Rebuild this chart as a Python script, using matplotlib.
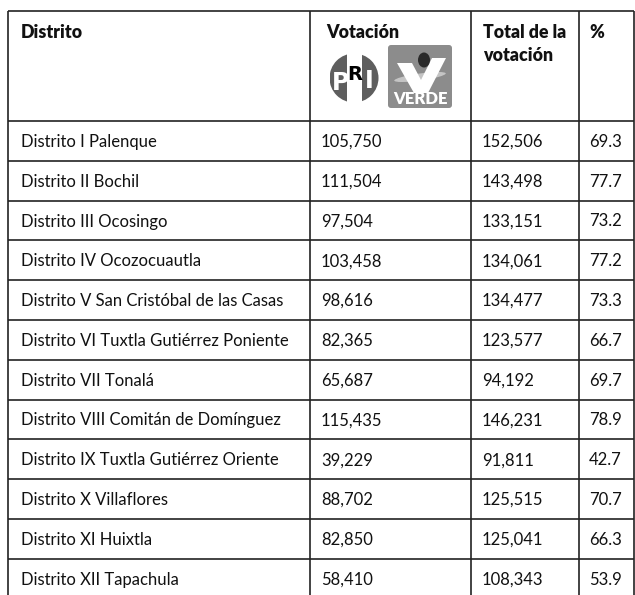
import matplotlib.pyplot as plt
from matplotlib.patches import Circle, Rectangle, FancyBboxPatch, Polygon, Ellipse

plt.rcParams['font.family'] = ['Lato', 'DejaVu Sans']

# datos de la tabla
distritos = ['Distrito I Palenque', 'Distrito II Bochil', 'Distrito III Ocosingo',
             'Distrito IV Ocozocuautla', 'Distrito V San Cristóbal de las Casas',
             'Distrito VI Tuxtla Gutiérrez Poniente', 'Distrito VII Tonalá',
             'Distrito VIII Comitán de Domínguez', 'Distrito IX Tuxtla Gutiérrez Oriente',
             'Distrito X Villaflores', 'Distrito XI Huixtla', 'Distrito XII Tapachula']
votacion = [105750, 111504, 97504, 103458, 98616, 82365, 65687, 115435, 39229,
            88702, 82850, 58410]
total = [152506, 143498, 133151, 134061, 134477, 123577, 94192, 146231, 91811,
         125515, 125041, 108343]
porcentaje = [69.3, 77.7, 73.2, 77.2, 73.3, 66.7, 69.7, 78.9, 42.7, 70.7, 66.3, 53.9]

# geometria (pixeles)
W, H = 635, 595
col_x = [8, 310, 471, 579, 634]
top, header_bottom, row_h = 11, 121, 39.8
line_color = '#222222'
fs = 12

fig = plt.figure(figsize=(W / 100, H / 100), dpi=100)
ax = fig.add_axes([0, 0, 1, 1])
ax.set_xlim(0, W)
ax.set_ylim(H, 0)
ax.axis('off')

# lineas
n = len(distritos)
y_lines = [top, header_bottom] + [header_bottom + (i + 1) * row_h for i in range(n)]
for y in y_lines:
    ax.plot([col_x[0], col_x[-1]], [y, y], color=line_color, lw=1.2, solid_capstyle='butt')
for x in col_x:
    ax.plot([x, x], [top, y_lines[-1]], color=line_color, lw=1.2, solid_capstyle='butt')

# encabezado
hdr = dict(fontsize=12.8, fontweight='heavy', va='baseline', ha='left', color='#111111')
ax.text(col_x[0] + 13, 38, 'Distrito', **hdr)
ax.text(col_x[1] + 16, 38, 'Votación', **hdr)
ax.text(col_x[2] + 12, 38, 'Total de la', **hdr)
ax.text(col_x[2] + 12, 61, 'votación', **hdr)
ax.text(col_x[3] + 10, 38, '%', **hdr)

# logo PRI
cx, cy, r = 354, 78, 24.5
circ = Circle((cx, cy), r, facecolor='white', edgecolor='none')
ax.add_patch(circ)
for x0, x1 in [(cx - r, cx - 0.28 * r), (cx + 0.34 * r, cx + r)]:
    rect = Rectangle((x0, cy - r), x1 - x0, 2 * r, facecolor='#5e5e5e', edgecolor='none')
    ax.add_patch(rect)
    rect.set_clip_path(circ)
pri = dict(fontweight='bold', ha='center', va='center', family='DejaVu Sans')
ax.text(cx - 0.55 * r, cy + 5, 'P', fontsize=17, color='white', **pri)
ax.text(cx + 0.04 * r, cy - 4, 'R', fontsize=14, color='black', **pri)
ax.text(cx + 0.62 * r, cy + 3, 'I', fontsize=17, color='white', **pri)

# logo VERDE
bx, by, bw, bh = 388, 45, 64, 63
ax.add_patch(FancyBboxPatch((bx + 3, by + 3), bw - 6, bh - 6,
                            boxstyle='round,pad=3', facecolor='#8c8c8c', edgecolor='none'))
ax.add_patch(Ellipse((bx + 32, by + 32), 52, 7, angle=-8, facecolor='#c4c4c4',
                     edgecolor='none'))
ax.add_patch(Polygon([(bx + 9, by + 18), (bx + 24, by + 18), (bx + 33, by + 35),
                      (bx + 44, by + 13), (bx + 58, by + 13), (bx + 40, by + 48),
                      (bx + 26, by + 48)], closed=True, facecolor='white', edgecolor='none'))
ax.add_patch(Ellipse((bx + 36, by + 15), 12, 15, facecolor='#2a2a2a', edgecolor='none'))
ax.text(bx + bw / 2, by + bh - 9, 'VERDE', fontsize=12, fontweight='heavy', color='white',
        ha='center', va='center')

# filas
for i in range(n):
    yc = header_bottom + i * row_h + row_h / 2 + 1
    kw = dict(fontsize=fs, va='center', ha='left', color='#111111')
    ax.text(col_x[0] + 13, yc, distritos[i], **kw)
    ax.text(col_x[1] + 11, yc, f'{votacion[i]:,}', **kw)
    ax.text(col_x[2] + 11, yc, f'{total[i]:,}', **kw)
    ax.text(col_x[3] + 10, yc, f'{porcentaje[i]:.1f}', **kw)

fig.savefig('out.png', dpi=100, facecolor='white')
